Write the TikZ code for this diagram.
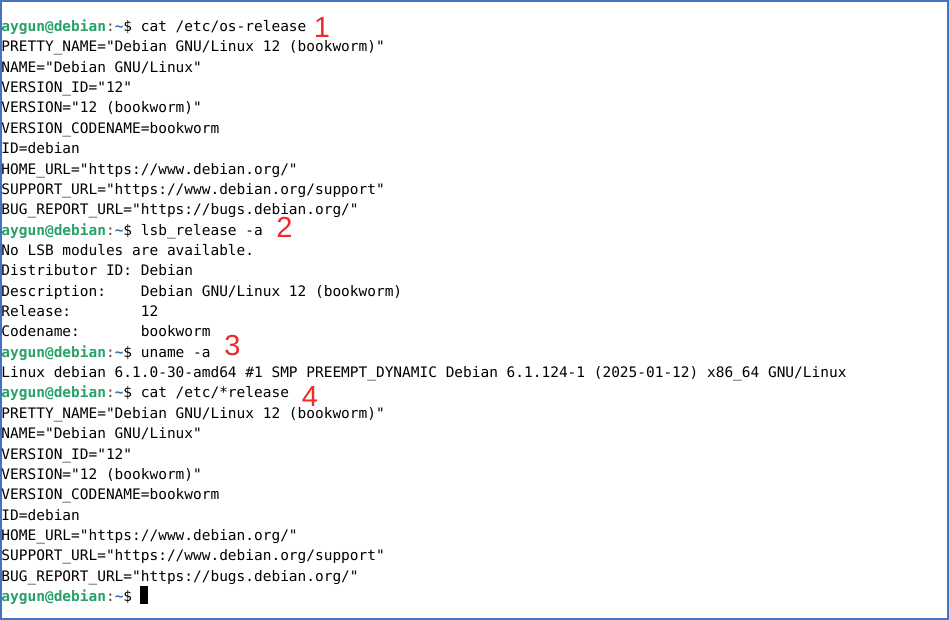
\documentclass[tikz,border=0pt]{standalone}
\usepackage{fontspec}
\newfontfamily\termfont{DejaVu Sans Mono}
\newfontfamily\numfontfam{Liberation Sans}
\definecolor{pgreen}{HTML}{26A269}
\definecolor{pblue}{HTML}{3D6FB0}
\definecolor{pcolon}{HTML}{4A4A4A}
\definecolor{numred}{HTML}{EE2A2A}
\definecolor{frameblue}{HTML}{4472C4}
\newcommand{\prmt}{{\bfseries\color{pgreen}aygun@debian}{\color{pcolon}:}{\bfseries\color{pblue}\textasciitilde}\$}
\newcommand{\bl}[1]{588.5-(#1-1)*20.36}
\begin{document}
\frenchspacing
\begin{tikzpicture}[x=1pt,y=1pt,
  termline/.style={anchor=base west, inner sep=0pt, outer sep=0pt, font=\termfont\fontsize{14.47}{20}\selectfont, text=black},
  numlabel/.style={anchor=center, inner sep=0pt, font=\numfontfam\fontsize{29}{30}\selectfont, text=numred}]
\useasboundingbox (0,0) rectangle (949,620);
\fill[white] (0,0) rectangle (949,620);
\draw[frameblue, line width=2.4pt] (1.2,1.2) rectangle (947.8,618.8);

\node[termline] (l1) at (1.5,{\bl{1}}) {\prmt\ cat /etc/os-release};
\node[termline] (l2) at (1.5,{\bl{2}}) {PRETTY\_NAME="Debian GNU/Linux 12 (bookworm)"};
\node[termline] (l3) at (1.5,{\bl{3}}) {NAME="Debian GNU/Linux"};
\node[termline] (l4) at (1.5,{\bl{4}}) {VERSION\_ID="12"};
\node[termline] (l5) at (1.5,{\bl{5}}) {VERSION="12 (bookworm)"};
\node[termline] (l6) at (1.5,{\bl{6}}) {VERSION\_CODENAME=bookworm};
\node[termline] (l7) at (1.5,{\bl{7}}) {ID=debian};
\node[termline] (l8) at (1.5,{\bl{8}}) {HOME\_URL="https://www.debian.org/"};
\node[termline] (l9) at (1.5,{\bl{9}}) {SUPPORT\_URL="https://www.debian.org/support"};
\node[termline] (l10) at (1.5,{\bl{10}}) {BUG\_REPORT\_URL="https://bugs.debian.org/"};
\node[termline] (l11) at (1.5,{\bl{11}}) {\prmt\ lsb\_release -a};
\node[termline] (l12) at (1.5,{\bl{12}}) {No LSB modules are available.};
\node[termline] (l13) at (1.5,{\bl{13}}) {Distributor ID:\ Debian};
\node[termline] (l14) at (1.5,{\bl{14}}) {Description:\ \ \ \ Debian GNU/Linux 12 (bookworm)};
\node[termline] (l15) at (1.5,{\bl{15}}) {Release:\ \ \ \ \ \ \ \ 12};
\node[termline] (l16) at (1.5,{\bl{16}}) {Codename:\ \ \ \ \ \ \ bookworm};
\node[termline] (l17) at (1.5,{\bl{17}}) {\prmt\ uname -a};
\node[termline] (l18) at (1.5,{\bl{18}}) {Linux debian 6.1.0-30-amd64 \#1 SMP PREEMPT\_DYNAMIC Debian 6.1.124-1 (2025-01-12) x86\_64 GNU/Linux};
\node[termline] (l19) at (1.5,{\bl{19}}) {\prmt\ cat /etc/*release};
\node[termline] (l20) at (1.5,{\bl{20}}) {PRETTY\_NAME="Debian GNU/Linux 12 (bookworm)"};
\node[termline] (l21) at (1.5,{\bl{21}}) {NAME="Debian GNU/Linux"};
\node[termline] (l22) at (1.5,{\bl{22}}) {VERSION\_ID="12"};
\node[termline] (l23) at (1.5,{\bl{23}}) {VERSION="12 (bookworm)"};
\node[termline] (l24) at (1.5,{\bl{24}}) {VERSION\_CODENAME=bookworm};
\node[termline] (l25) at (1.5,{\bl{25}}) {ID=debian};
\node[termline] (l26) at (1.5,{\bl{26}}) {HOME\_URL="https://www.debian.org/"};
\node[termline] (l27) at (1.5,{\bl{27}}) {SUPPORT\_URL="https://www.debian.org/support"};
\node[termline] (l28) at (1.5,{\bl{28}}) {BUG\_REPORT\_URL="https://bugs.debian.org/"};
\node[termline] (l29) at (1.5,{\bl{29}}) {\prmt};
\fill[black] (140,16) rectangle (148,34);

\node[numlabel] (n1) at (322,592.5) {1};
\node[numlabel] (n2) at (284.5,392.5) {2};
\node[numlabel] (n3) at (232.5,274) {3};
\node[numlabel] (n4) at (310,223) {4};
\end{tikzpicture}
\end{document}
